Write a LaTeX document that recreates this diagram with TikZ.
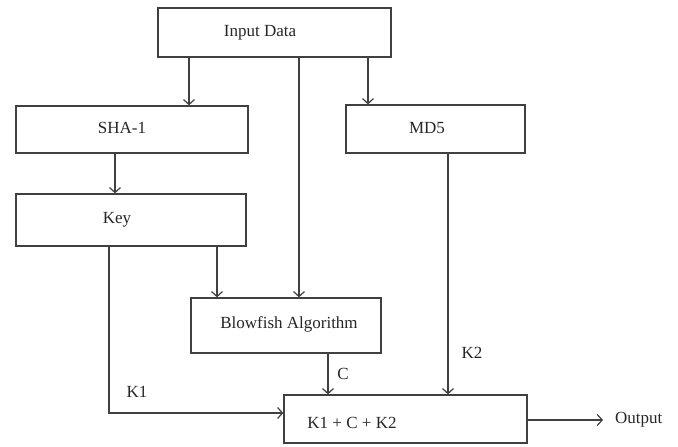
\documentclass[tikz,border=0pt]{standalone}
\usepackage{fontspec}
\setmainfont{Liberation Serif}
\usetikzlibrary{arrows.meta,calc}
\begin{document}
\begin{tikzpicture}[x=1pt,y=-1pt,
  box/.style={draw=black!75,line width=1.3pt,rectangle,inner sep=0pt,minimum width=#1},
  lbl/.style={font=\fontsize{17}{20}\selectfont,text=black!85,inner sep=0pt},
  arr/.style={draw=black!75,line width=1.2pt,-{Straight Barb[length=5pt,width=11pt]}},
  ln/.style={draw=black!75,line width=1.2pt}]
\useasboundingbox[fill=white] (0,0) rectangle (678,447);
% boxes
\node[box=233pt,minimum height=49pt] (inp) at (274.5,32.5) {};
\node[box=232pt,minimum height=47pt] (sha) at (132,129.5) {};
\node[box=179pt,minimum height=48pt] (md5) at (435.5,129) {};
\node[box=230pt,minimum height=52pt] (key) at (131,220) {};
\node[box=190pt,minimum height=55pt] (blow) at (286,325.5) {};
\node[box=243pt,minimum height=48pt] (sum) at (405.5,419) {};
% box texts
\node[lbl] (tinp) at (260,33) {Input Data};
\node[lbl] (tsha) at (122,128) {SHA-1};
\node[lbl] (tmd5) at (427,128) {MD5};
\node[lbl] (tkey) at (117,220) {Key};
\node[lbl] (tblow) at (289,324) {Blowfish Algorithm};
\node[lbl] (tsum) at (352,423) {K1 + C + K2};
% helper coordinates
\coordinate (xa) at (189,0);
\coordinate (xb) at (299,0);
\coordinate (xc) at (368,0);
\coordinate (xd) at (115,0);
\coordinate (xe) at (217,0);
\coordinate (xf) at (109,0);
\coordinate (xg) at (328,0);
\coordinate (xh) at (448,0);
\coordinate (k1y) at (0,413);
\coordinate (outy) at (0,420);
\coordinate (outend) at (603,420);
% connectors
\draw[arr] (inp.south -| xa) -- (sha.north -| xa);
\draw[arr] (inp.south -| xb) -- (blow.north -| xb);
\draw[arr] (inp.south -| xc) -- (md5.north -| xc);
\draw[arr] (sha.south -| xd) -- (key.north -| xd);
\draw[arr] (key.south -| xe) -- (blow.north -| xe);
\draw[arr] (key.south -| xf) -- (xf |- k1y) -- (sum.west |- k1y);
\draw[arr] (blow.south -| xg) -- (sum.north -| xg);
\draw[arr] (md5.south -| xh) -- (sum.north -| xh);
\draw[arr] (sum.east |- outy) -- (outend);
% labels
\node[lbl] (lk1) at (137,392) {K1};
\node[lbl] (lc) at (343,374) {C};
\node[lbl] (lk2) at (472,353) {K2};
\node[lbl,anchor=west] (lout) at (615,420) {Output};
\end{tikzpicture}
\end{document}
